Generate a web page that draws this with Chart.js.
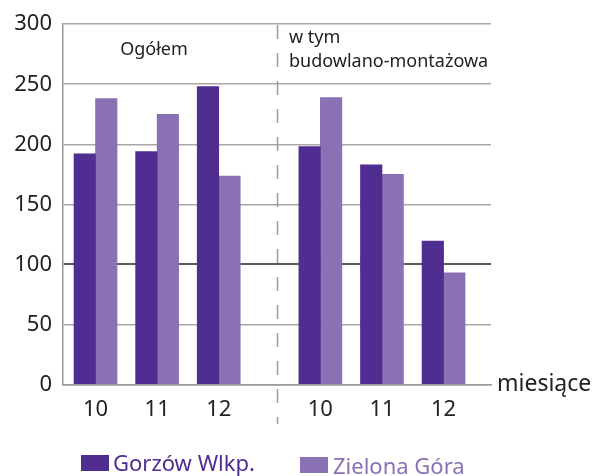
<!DOCTYPE html>
<html>
<head>
<meta charset="utf-8">
<script src="https://cdn.jsdelivr.net/npm/chart.js@4"></script>
<style>
  html, body { margin: 0; padding: 0; background: #fff; }
  #wrap { width: 594px; height: 476px; }
</style>
</head>
<body>
<div id="wrap"><canvas id="chart" width="594" height="476"></canvas></div>
<script>
// --- Data ---
const months = ['10', '11', '12', '10', '11', '12'];
const gorzow = [192, 194, 248, 198, 183, 119.5];
const zielona = [238, 225, 173.5, 239, 175, 93];
const yTicks = [0, 50, 100, 150, 200, 250, 300];
const seriesNames = ['Gorzów Wlkp.', 'Zielona Góra'];
const groupLabels = ['Ogółem', 'w tym', 'budowlano-montażowa'];
const xTitle = 'miesiące';

// --- Layout ---
const GAP = 0.65;          // extra room between the two groups
const SEPARATOR_AT = 2.94; // where the dashed divider sits on the x scale
const DARK = '#502d90';
const LIGHT = '#8971b4';
const FONT = "'Noto Sans', 'Open Sans', sans-serif";

const xPos = months.map((m, i) => i < 3 ? i : i + GAP);

// custom drawing: divider, group captions, axis title, legend
const extras = {
    id: 'extras',
    afterDraw(chart) {
        const ctx = chart.ctx;
        const x = chart.scales.x;
        ctx.save();

        // dashed divider
        const sx = Math.round(x.getPixelForValue(SEPARATOR_AT)) + 0.5;
        ctx.strokeStyle = '#9a9a9a';
        ctx.lineWidth = 1.5;
        ctx.setLineDash([14, 14]);
        ctx.beginPath();
        ctx.moveTo(sx, 25);
        ctx.lineTo(sx, 424);
        ctx.stroke();
        ctx.setLineDash([]);

        // group captions
        ctx.fillStyle = '#222';
        ctx.font = '18px ' + FONT;
        ctx.textBaseline = 'middle';
        ctx.textAlign = 'center';
        ctx.fillText(groupLabels[0], 154, 50);
        ctx.textAlign = 'left';
        ctx.fillText(groupLabels[1], 289, 38);
        ctx.fillText(groupLabels[2], 289, 62);

        // x axis title
        ctx.font = '23px ' + FONT;
        ctx.fillText(xTitle, 497, 384);

        // legend
        ctx.font = '22px ' + FONT;
        ctx.textBaseline = 'alphabetic';
        ctx.fillStyle = DARK;
        ctx.fillRect(81, 455, 28, 16);
        ctx.fillText(seriesNames[0], 113, 471);
        ctx.fillStyle = LIGHT;
        ctx.fillRect(300, 457, 28, 16);
        ctx.fillText(seriesNames[1], 333, 474);

        ctx.restore();
    }
};

new Chart(document.getElementById('chart'), {
    type: 'bar',
    data: {
        datasets: [
            {
                label: seriesNames[0],
                data: gorzow.map((v, i) => ({ x: xPos[i], y: v })),
                backgroundColor: DARK
            },
            {
                label: seriesNames[1],
                data: zielona.map((v, i) => ({ x: xPos[i], y: v })),
                backgroundColor: LIGHT
            }
        ]
    },
    options: {
        responsive: false,
        animation: false,
        devicePixelRatio: 1,
        barThickness: 21.5,
        layout: { padding: { top: 21, right: 103, bottom: 0, left: 0 } },
        plugins: {
            legend: { display: false },
            tooltip: { enabled: false }
        },
        scales: {
            x: {
                type: 'linear',
                offset: false,
                min: -0.528,
                max: 6.42,
                grid: { display: false, drawTicks: false },
                border: { color: '#9a9a9a', width: 1.5 },
                afterBuildTicks: axis => { axis.ticks = xPos.map(v => ({ value: v })); },
                afterFit: axis => { axis.height = 91.5; },
                ticks: {
                    autoSkip: false,
                    maxRotation: 0,
                    padding: 12,
                    color: '#222',
                    font: { family: FONT, size: 22 },
                    callback: (v, i) => months[i]
                }
            },
            y: {
                min: 0,
                max: 300,
                afterBuildTicks: axis => { axis.ticks = yTicks.map(v => ({ value: v })); },
                afterFit: axis => { axis.width = 63; },
                border: { color: '#9a9a9a', width: 1.5 },
                grid: {
                    drawTicks: false,
                    color: c => c.tick && c.tick.value === 100 ? '#5a5a5a' : '#a8a8a8',
                    lineWidth: c => c.tick && c.tick.value === 100 ? 2 : 1.5
                },
                ticks: {
                    padding: 11,
                    color: '#222',
                    font: { family: FONT, size: 22 }
                }
            }
        }
    },
    plugins: [extras]
});
</script>
</body>
</html>
